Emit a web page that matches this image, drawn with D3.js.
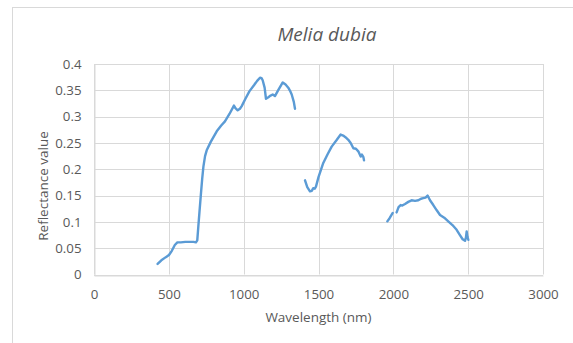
<!DOCTYPE html>
<html>
<head>
<meta charset="utf-8">
<script src="https://cdn.jsdelivr.net/npm/d3@7"></script>
<style>
  body { margin: 0; background: #fff; }
  text { font-family: "Open Sans", "Noto Sans", sans-serif; fill: #595959; }
</style>
</head>
<body>
<svg id="chart" width="573" height="343"></svg>
<script>
// spectral reflectance, gaps (water absorption bands) are null
const wavelengths = [
  425, 450, 480, 501, 520, 540, 557, 580, 610, 641, 665, 681, 690, 697, 705, 715, 723, 731, 742, 753,
  780, 820, 850, 875, 905, 935, 945, 960, 975, 987, 1010, 1038, 1070, 1090, 1109, 1120, 1127, 1140, 1149, 1165,
  1180, 1194, 1209, 1230, 1261, 1280, 1298, 1310, 1321, 1335, 1343,
  1380,
  1410, 1425, 1443, 1455, 1465, 1475, 1483, 1500, 1532, 1560, 1588, 1620, 1648, 1665, 1680, 1699, 1715, 1733, 1750, 1766, 1782, 1790, 1800, 1804,
  1880,
  1960, 1975, 1996,
  2010,
  2022, 2035, 2049, 2060, 2078, 2100, 2122, 2145, 2167, 2185, 2200, 2215, 2229, 2245, 2267, 2290, 2312, 2340, 2367, 2395, 2423, 2445, 2463, 2479, 2485, 2490, 2495, 2501
];
const reflectance = [
  0.020, 0.027, 0.033, 0.037, 0.045, 0.056, 0.061, 0.061, 0.062, 0.062, 0.062, 0.061, 0.065, 0.091, 0.120, 0.155, 0.182, 0.205, 0.225, 0.236,
  0.252, 0.272, 0.283, 0.291, 0.305, 0.321, 0.316, 0.312, 0.315, 0.320, 0.333, 0.348, 0.360, 0.368, 0.374, 0.373, 0.369, 0.355, 0.334, 0.337,
  0.340, 0.342, 0.339, 0.350, 0.365, 0.361, 0.355, 0.349, 0.342, 0.328, 0.315,
  null,
  0.179, 0.166, 0.158, 0.159, 0.164, 0.163, 0.167, 0.185, 0.212, 0.228, 0.243, 0.255, 0.266, 0.264, 0.261, 0.256, 0.250, 0.240, 0.239, 0.234, 0.224, 0.228, 0.223, 0.217,
  null,
  0.101, 0.107, 0.117,
  null,
  0.118, 0.128, 0.132, 0.131, 0.134, 0.138, 0.141, 0.140, 0.141, 0.144, 0.145, 0.146, 0.150, 0.141, 0.132, 0.122, 0.113, 0.108, 0.101, 0.094, 0.085, 0.075, 0.067, 0.064, 0.070, 0.082, 0.072, 0.066
];
const xTicks = [0, 500, 1000, 1500, 2000, 2500, 3000];
const yTicks = [0, 0.05, 0.1, 0.15, 0.2, 0.25, 0.3, 0.35, 0.4];

const svg = d3.select('#chart');
const margin = { left: 94, right: 30, top: 64, bottom: 68.5 };
const W = 573, H = 343;

// chart area frame (Excel style, partly cut on right/bottom)
svg.append('rect').attr('x', 12.5).attr('y', 7.5).attr('width', 600).attr('height', 400)
  .attr('fill', 'none').attr('stroke', '#d9d9d9');

const x = d3.scaleLinear().domain([0, 3000]).range([margin.left, W - margin.right]);
const y = d3.scaleLinear().domain([0, 0.4]).range([H - margin.bottom, margin.top]);

const grid = svg.append('g');
grid.selectAll('line.h').data(yTicks).join('line')
  .attr('x1', x(0)).attr('x2', x(3000))
  .attr('y1', (d) => Math.round(y(d)) + 0.5).attr('y2', (d) => Math.round(y(d)) + 0.5)
  .attr('stroke', '#d9d9d9').attr('stroke-width', 1);
grid.selectAll('line.v').data(xTicks).join('line')
  .attr('y1', y(0)).attr('y2', y(0.4))
  .attr('x1', (d) => Math.round(x(d)) + 0.5).attr('x2', (d) => Math.round(x(d)) + 0.5)
  .attr('stroke', '#d9d9d9').attr('stroke-width', 1);

const xAxis = svg.append('g').attr('transform', `translate(0,${Math.round(y(0)) + 0.5})`)
  .call(d3.axisBottom(x).tickValues(xTicks).tickSize(0).tickPadding(14).tickFormat(d3.format('d')));
const yAxis = svg.append('g').attr('transform', `translate(${Math.round(x(0)) + 0.5},0)`)
  .call(d3.axisLeft(y).tickValues(yTicks).tickSize(0).tickPadding(13).tickFormat((d) => String(+d.toFixed(2))));
[xAxis, yAxis].forEach((a) => {
  a.select('.domain').attr('stroke', '#d9d9d9');
  a.selectAll('text').attr('font-size', 13.3).attr('fill', '#595959')
    .attr('font-family', '"Open Sans", "Noto Sans", sans-serif');
});

const line = d3.line()
  .defined((d) => d[1] != null)
  .x((d) => x(d[0])).y((d) => y(d[1]));
svg.append('path')
  .datum(wavelengths.map((w, i) => [w, reflectance[i]]))
  .attr('fill', 'none').attr('stroke', '#5b9bd5').attr('stroke-width', 2.4)
  .attr('stroke-linejoin', 'round').attr('stroke-linecap', 'round')
  .attr('d', line);

svg.append('text').attr('x', 327).attr('y', 41).attr('text-anchor', 'middle')
  .attr('font-size', 19).attr('font-style', 'italic').text('Melia dubia');
svg.append('text').attr('x', 318.5).attr('y', 322).attr('text-anchor', 'middle')
  .attr('font-size', 13.5).text('Wavelength (nm)');
svg.append('text').attr('transform', 'translate(48,186) rotate(-90)').attr('text-anchor', 'middle')
  .attr('font-size', 13.5).text('Reflectance value');
</script>
</body>
</html>
